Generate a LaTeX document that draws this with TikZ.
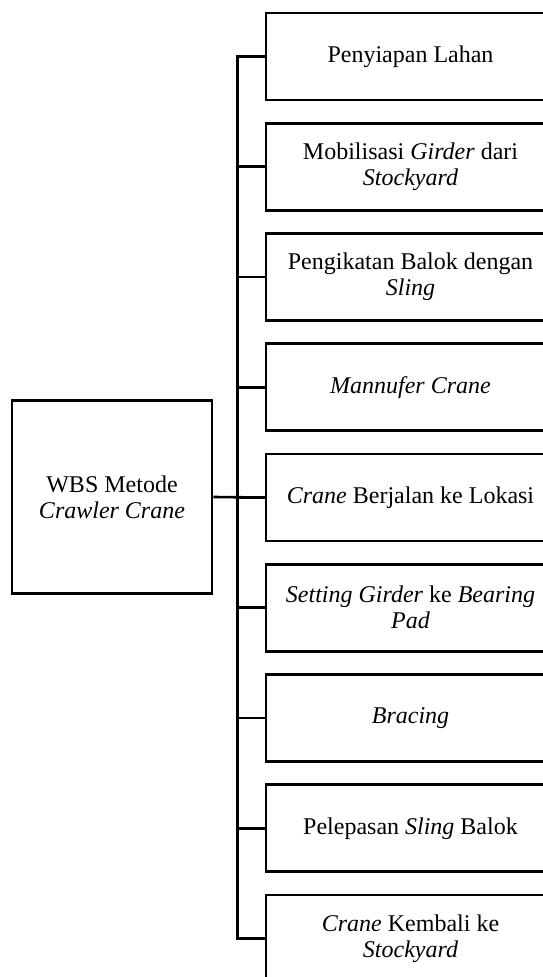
\documentclass[tikz,border=0pt]{standalone}
\usepackage{fontspec}
\setmainfont{Liberation Serif}
\usepackage{xcolor}
\usetikzlibrary{calc}
\definecolor{ink}{HTML}{000000}
\tikzset{
  box/.style={draw=ink, line width=2.6pt, align=center, inner sep=2pt,
    font=\fontsize{24}{26}\selectfont},
  rootbox/.style={box, minimum width=200, minimum height=193},
  leafbox/.style={box, minimum width=289, minimum height=87},
  link/.style={draw=ink, line width=2.6pt},
}

\begin{document}
\begin{tikzpicture}[x=1pt,y=-1pt]
  \useasboundingbox (0,0) rectangle (543,977);
  \fill[white] (0,0) rectangle (543,977);
  \clip (0,0) rectangle (543,977);

  \node[rootbox] (root) at (112,497) {WBS Metode\\\textit{Crawler Crane}};
  \coordinate (bus) at (237.5,497);

  \foreach \i/\txt in {
      1/{Penyiapan Lahan},
      2/{Mobilisasi \textit{Girder} dari\\\textit{Stockyard}},
      3/{Pengikatan Balok dengan\\\textit{Sling}},
      4/{\textit{Mannufer Crane}},
      5/{\textit{Crane} Berjalan ke Lokasi},
      6/{\textit{Setting Girder} ke \textit{Bearing}\\\textit{Pad}},
      7/{\textit{Bracing}},
      8/{Pelepasan \textit{Sling} Balok},
      9/{\textit{Crane} Kembali ke\\\textit{Stockyard}}}
    \node[leafbox] (task\i) at (410.5,{56.5+110.25*(\i-1)}) {\txt};

  \draw[link] (root.east) -- (task5.west);
  \draw[link] (task1.west) -- (task1.west -| bus) -- (task9.west -| bus) -- (task9.west);
  \foreach \i in {2,...,8}
    \draw[link] (task\i.west) -- (task\i.west -| bus);
\end{tikzpicture}
\end{document}
